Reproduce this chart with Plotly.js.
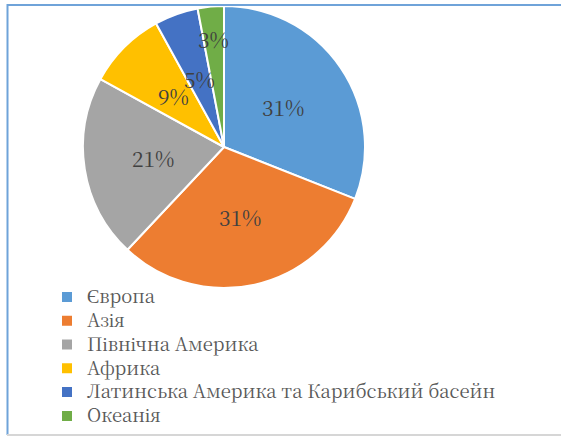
<!DOCTYPE html>
<html>
<head>
<meta charset="utf-8">
<script src="https://cdn.plot.ly/plotly-3.0.1.min.js"></script>
<style>html,body{margin:0;padding:0;background:#fff;}#chart{width:561px;height:438px;}</style>
</head>
<body>
<div id="chart"></div>
<script>
var categories = ['Європа', 'Азія', 'Північна Америка', 'Африка', 'Латинська Америка та Карибський басейн', 'Океанія'];
var shares = [31, 31, 21, 9, 5, 3];
var colors = ['#5B9BD5', '#ED7D31', '#A5A5A5', '#FFC000', '#4472C4', '#70AD47'];

var W = 561, H = 438;
var FONT = 'Noto Serif CJK SC';
// pie geometry (pixels)
var cx = 224, cy = 147, R = 141;
var domX = [(cx - R) / W, (cx + R) / W];
var domY = [1 - (cy + R) / H, 1 - (cy - R) / H];

var total = shares.reduce(function (a, b) { return a + b; }, 0);
var annotations = [];
var cum = 0;
shares.forEach(function (v) {
  var frac = v / total;
  var mid = (cum + frac / 2) * 2 * Math.PI;
  cum += frac;
  var rf = frac < 0.04 ? 0.77 : 0.51;
  var px = cx + rf * R * Math.sin(mid);
  var py = cy - rf * R * Math.cos(mid);
  annotations.push({
    x: px / W, y: 1 - py / H, xref: 'paper', yref: 'paper',
    text: Math.round(frac * 100) + '%', showarrow: false,
    xanchor: 'center', yanchor: 'middle',
    font: {family: FONT, size: 21, color: '#404040'}
  });
});

var trace = {
  type: 'pie',
  labels: categories.map(function (c) { return '<span style="font-size:18.5px">' + c + '</span>'; }),
  values: shares,
  sort: false,
  direction: 'clockwise',
  rotation: 0,
  textinfo: 'none',
  hoverinfo: 'label+percent',
  marker: {colors: colors, line: {color: '#FFFFFF', width: 2}},
  domain: {x: domX, y: domY}
};

var layout = {
  width: W, height: H,
  margin: {l: 0, r: 0, t: 0, b: 0},
  paper_bgcolor: '#FFFFFF',
  font: {family: FONT},
  showlegend: true,
  legend: {
    x: 47 / W, xanchor: 'left', y: 1 - 280 / H, yanchor: 'top',
    font: {family: FONT, size: 16, color: '#595959'},
    bgcolor: 'rgba(0,0,0,0)', borderwidth: 0
  },
  annotations: annotations,
  shapes: [
    {type: 'line', xref: 'paper', yref: 'paper', x0: 7 / W, x1: 1, y0: 1 - 5 / H, y1: 1 - 5 / H, line: {color: '#6FA3D9', width: 2}},
    {type: 'line', xref: 'paper', yref: 'paper', x0: 7.5 / W, x1: 7.5 / W, y0: 1 - 4 / H, y1: 1 - 435 / H, line: {color: '#6FA3D9', width: 2}},
    {type: 'line', xref: 'paper', yref: 'paper', x0: 7 / W, x1: 1, y0: 1 - 435 / H, y1: 1 - 435 / H, line: {color: '#D6D6D6', width: 2}}
  ]
};

Plotly.newPlot('chart', [trace], layout, {displayModeBar: false, staticPlot: true});
</script>
</body>
</html>
